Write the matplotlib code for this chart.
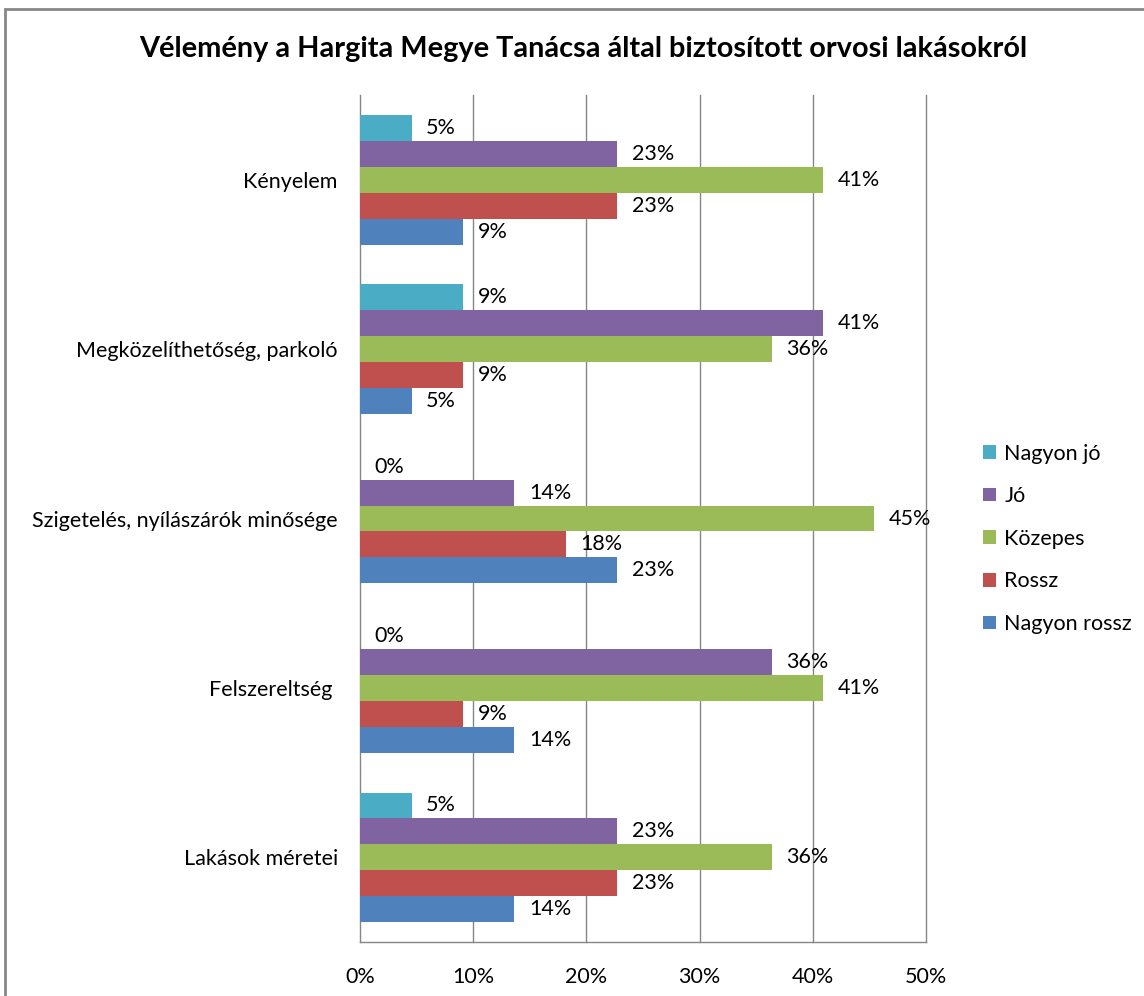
import matplotlib.pyplot as plt
from matplotlib.patches import Rectangle

plt.rcParams["font.family"] = ["Lato", "DejaVu Sans"]

categories = [
    "Kényelem",
    "Megközelíthetőség, parkoló",
    "Szigetelés, nyílászárók minősége",
    "Felszereltség ",
    "Lakások méretei",
]
series_names = ["Nagyon jó", "Jó", "Közepes", "Rossz", "Nagyon rossz"]
series_colors = ["#4BACC6", "#8064A2", "#9BBB59", "#C0504D", "#4F81BD"]

# percent of answers per category (top to bottom)
nagyon_jo = [4.55, 9.09, 0.0, 0.0, 4.55]
jo = [22.73, 40.91, 13.64, 36.36, 22.73]
kozepes = [40.91, 36.36, 45.45, 40.91, 36.36]
rossz = [22.73, 9.09, 18.18, 9.09, 22.73]
nagyon_rossz = [9.09, 4.55, 22.73, 13.64, 13.64]
series_values = [nagyon_jo, jo, kozepes, rossz, nagyon_rossz]

x_ticks = [0, 10, 20, 30, 40, 50]

fig = plt.figure(figsize=(11.44, 9.96), dpi=100)
ax = fig.add_axes([0.3147, 0.0542, 0.4947, 0.8504])

grid_color = "#868686"
bar_h = 0.153
n_cat = len(categories)
fs = 15.5

for s, (name, color, vals) in enumerate(zip(series_names, series_colors, series_values)):
    offset = (2 - s) * bar_h
    ys = [n_cat - 1 - i + offset for i in range(n_cat)]
    ax.barh(ys, vals, height=bar_h, color=color, label=name, zorder=3)
    for y, v in zip(ys, vals):
        ax.text(v + 1.3, y, f"{v:.0f}%", va="center", ha="left",
                fontsize=fs, color="#000000", zorder=4)

for t in x_ticks[1:]:
    ax.axvline(t, color=grid_color, lw=1, zorder=1, clip_on=False)

ax.set_xlim(0, 50)
ax.set_ylim(-0.5, n_cat - 0.5)
ax.set_xticks(x_ticks)
ax.set_xticklabels([f"{t}%" for t in x_ticks])
ax.set_yticks(range(n_cat))
ax.set_yticklabels(categories[::-1])
ax.tick_params(axis="y", length=0, pad=16, labelsize=fs)
ax.tick_params(axis="x", length=0, pad=18, labelsize=fs)

for side in ["top", "right"]:
    ax.spines[side].set_visible(False)
for side in ["left", "bottom"]:
    ax.spines[side].set_color(grid_color)
    ax.spines[side].set_linewidth(1)

ax.legend(loc="center left", bbox_to_anchor=(1.066, 0.476), frameon=False,
          fontsize=fs, handlelength=0.6, handleheight=0.6, handletextpad=0.4,
          labelspacing=1.05)

fig.text(0.5096, 0.951, "Vélemény a Hargita Megye Tanácsa által biztosított orvosi lakásokról",
         ha="center", va="center", fontsize=20.8, fontweight="bold")

fig.patches.append(Rectangle((5 / 1144, -0.02), 1.1, 1 - 9 / 996 + 0.02,
                             transform=fig.transFigure, fill=False,
                             edgecolor="#878787", lw=2))

fig.savefig("out.png", dpi=100)
